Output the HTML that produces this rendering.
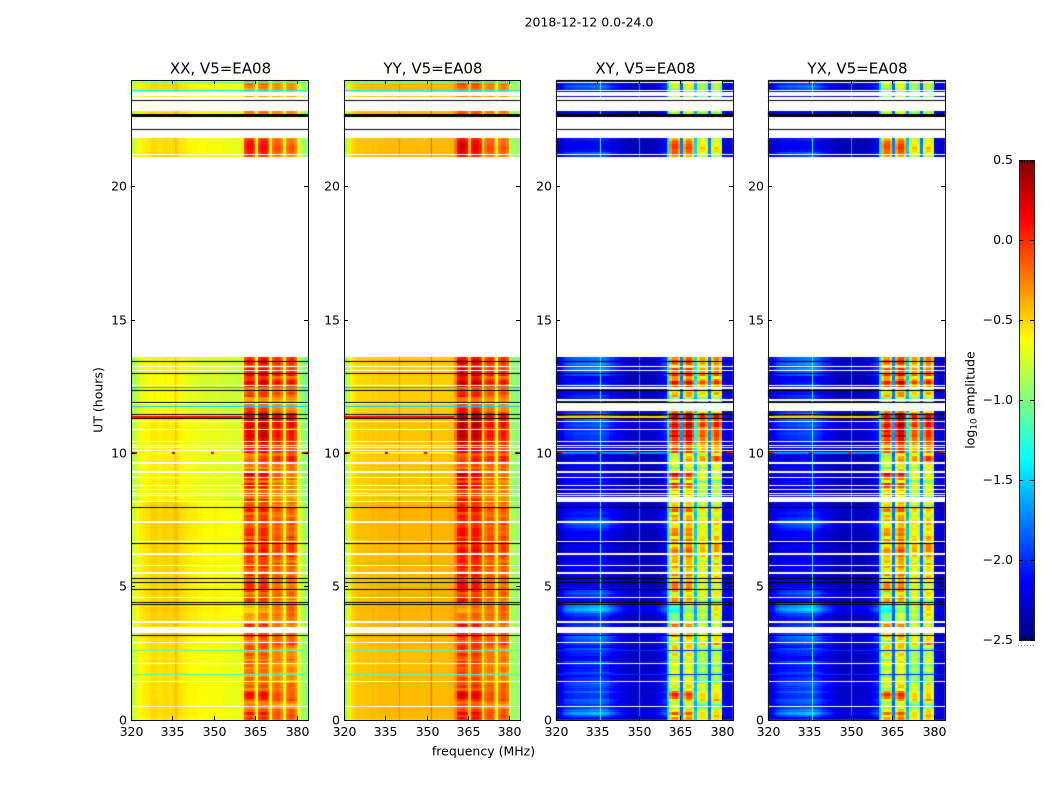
<!DOCTYPE html>
<html>
<head>
<meta charset="utf-8">
<title>2018-12-12 dynamic spectrum</title>
<style>
html,body{margin:0;padding:0;background:#fff;}
#figure{position:relative;width:1050px;height:800px;overflow:hidden;background:#fff;font-family:"DejaVu Sans","Liberation Sans",sans-serif;}
#figure canvas{position:absolute;left:0;top:0;}
#figure svg{position:absolute;left:0;top:0;}
text{font-family:"DejaVu Sans","Liberation Sans",sans-serif;fill:#000;}
</style>
</head>
<body>
<div id="figure">
<canvas id="cells" width="1050" height="800"></canvas>
<svg id="overlay" width="1050" height="800">
<text x="589" y="26.5" text-anchor="middle" font-size="12.5">2018-12-12 0.0-24.0</text>
<text transform="translate(102.5,400) rotate(-90)" text-anchor="middle" font-size="12.5">UT (hours)</text>
<text x="483.5" y="755.5" text-anchor="middle" font-size="12.5">frequency (MHz)</text>
<text transform="translate(974.5,400) rotate(-90)" text-anchor="middle" font-size="12.5">log<tspan font-size="8.8" dy="2">10</tspan><tspan dy="-2"> amplitude</tspan></text>
</svg>
</div>
<script>
// ---- categories and tick labels ----
const panelNames = ['XX', 'YY', 'XY', 'YX'];
const freqTicks = [320, 335, 350, 365, 380];
const hourTicks = [0, 5, 10, 15, 20];
const colorTicks = [0.5, 0.0, -0.5, -1.0, -1.5, -2.0, -2.5];

// ---- per-channel spectra (320..383 MHz, 1 MHz per channel), log10 amplitude ----
const baseXX = [-.82,-.74,-.66,-.6,-.58,-.56,-.56,-.52,-.5,-.52,-.54,-.52,-.5,-.52,-.54,-.5,-.46,-.54,-.56,-.56,-.58,-.6,-.6,-.6,-.62,-.62,-.64,-.64,-.64,-.64,-.62,-.64,-.64,-.66,-.66,-.66,-.68,-.68,-.68,-.68,-.64,-.55,-.55,-.55,-.58,-.62,-.55,-.55,-.55,-.58,-.62,-.55,-.55,-.55,-.58,-.64,-.55,-.55,-.55,-.58,-.7,-.78,-.86,-.94];
const baseYY = [-.88,-.72,-.56,-.5,-.46,-.44,-.46,-.44,-.44,-.44,-.42,-.44,-.42,-.42,-.42,-.42,-.42,-.42,-.42,-.42,-.42,-.42,-.42,-.42,-.42,-.42,-.42,-.42,-.42,-.42,-.42,-.42,-.42,-.42,-.42,-.42,-.42,-.42,-.4,-.4,-.38,-.42,-.42,-.42,-.44,-.5,-.42,-.42,-.42,-.46,-.6,-.5,-.46,-.46,-.5,-.6,-.5,-.46,-.46,-.5,-.86,-.88,-.9,-.92];
const baseXY = [-2.3,-2.35,-2.35,-2.3,-2.3,-2.3,-2.3,-2.3,-2.3,-2.3,-2.3,-2.3,-2.3,-2.3,-2.3,-2.3,-2.3,-2.3,-2.3,-2.35,-2.35,-2.35,-2.35,-2.35,-2.35,-2.35,-2.38,-2.38,-2.38,-2.38,-2.38,-2.38,-2.38,-2.38,-2.38,-2.38,-2.35,-2.35,-2.3,-2.25,-1.6,-1.42,-1.38,-1.38,-1.45,-1.95,-1.42,-1.36,-1.36,-1.45,-1.8,-1.5,-1.42,-1.42,-1.5,-1.95,-1.46,-1.4,-1.4,-1.46,-2.2,-2.3,-2.3,-2.25];
const baseYX = [-2.32,-2.35,-2.35,-2.32,-2.3,-2.3,-2.3,-2.3,-2.3,-2.3,-2.3,-2.3,-2.3,-2.3,-2.3,-2.3,-2.3,-2.3,-2.32,-2.35,-2.35,-2.35,-2.35,-2.35,-2.38,-2.38,-2.38,-2.38,-2.38,-2.38,-2.38,-2.38,-2.38,-2.38,-2.38,-2.38,-2.35,-2.35,-2.32,-2.28,-1.6,-1.44,-1.4,-1.4,-1.46,-1.95,-1.4,-1.34,-1.34,-1.42,-1.85,-1.5,-1.44,-1.44,-1.5,-1.95,-1.44,-1.38,-1.38,-1.44,-2.2,-2.3,-2.3,-2.3];

// how strongly each channel follows the band-gain row values
const gainXX = [0,0,0,0,0,0,0,0,0,0,0,0,0,0,0,0,0,0,0,0,0,0,0,0,0,0,0,0,0,0,0,0,0,0,0,0,0,0,0,0,.2,.7,.85,.85,.7,.05,.8,.95,.95,.8,.05,.62,.76,.76,.62,.05,.62,.78,.78,.62,0,0,0,0];
const gainYY = [0,0,0,0,0,0,0,0,0,0,0,0,0,0,0,0,0,0,0,0,0,0,0,0,0,0,0,0,0,0,0,0,0,0,0,0,0,0,0,0,.25,.75,.85,.85,.7,.15,.75,.85,.85,.7,.05,.5,.62,.62,.5,.05,.52,.64,.64,.52,0,0,0,0];
const gainXY = [0,0,0,0,0,0,0,0,0,0,0,0,0,0,0,0,0,0,0,0,0,0,0,0,0,0,0,0,0,0,0,0,0,0,0,0,0,0,0,0,.2,1.45,1.7,1.7,1.45,.3,1.5,1.8,1.8,1.5,.5,1.3,1.5,1.5,1.3,.3,1.35,1.6,1.6,1.35,.05,0,0,0];
const gainYX = [0,0,0,0,0,0,0,0,0,0,0,0,0,0,0,0,0,0,0,0,0,0,0,0,0,0,0,0,0,0,0,0,0,0,0,0,0,0,0,0,.2,1.4,1.65,1.65,1.4,.3,1.55,1.85,1.85,1.55,.5,1.3,1.55,1.55,1.3,.3,1.4,1.65,1.65,1.4,.05,0,0,0];

// how each channel follows the band-balance row values (negative: low bands, positive: high bands)
const channelTilt = [0,0,0,0,0,0,0,0,0,0,0,0,0,0,0,0,0,0,0,0,0,0,0,0,0,0,0,0,0,0,0,0,0,0,0,0,0,0,0,0,0,-1,-1,-1,-1,0,-.3,-.3,-.3,-.3,0,.5,.5,.5,.5,0,1,1,1,1,0,0,0,0];

// how strongly each channel follows the background row values
const bgXX = [.06,.06,.06,.06,.06,.06,.06,.06,.06,.06,.06,.06,.06,.06,.06,.06,.06,.06,.06,.06,.06,.06,.06,.06,.06,.06,.06,.06,.06,.06,.06,.06,.06,.06,.06,.06,.06,.06,.06,.06,0,0,0,0,0,0,0,0,0,0,0,0,0,0,0,0,0,0,0,0,0,0,0,0];
const bgYY = [.03,.03,.03,.03,.03,.03,.03,.03,.03,.03,.03,.03,.03,.03,.03,.03,.03,.03,.03,.03,.03,.03,.03,.03,.03,.03,.03,.03,.03,.03,.03,.03,.03,.03,.03,.03,.03,.03,.03,.03,0,0,0,0,0,0,0,0,0,0,0,0,0,0,0,0,0,0,0,0,0,0,0,0];
const bgXY = [.25,.4,.6,.75,.85,.9,.95,1,1,1,1.05,1.05,1.1,1.15,1.15,1.15,1.15,1.1,1,.9,.8,.7,.6,.5,.4,.35,.3,.25,.25,.3,.3,.3,.3,.3,.35,.35,.4,.5,.6,.65,0,0,0,0,0,0,0,0,0,0,0,0,0,0,0,0,0,0,0,0,.15,.15,.15,.15];
const bgYX = [.25,.4,.6,.75,.85,.9,.9,1,1,1,1.05,1.1,1.1,1.15,1.2,1.2,1.15,1.05,.95,.85,.75,.65,.55,.45,.4,.35,.3,.25,.25,.3,.3,.3,.3,.3,.35,.35,.4,.5,.6,.65,0,0,0,0,0,0,0,0,0,0,0,0,0,0,0,0,0,0,0,0,.15,.15,.15,.15];

// ---- per-time-row values (0.1 h rows from 0.0 to 23.9 h) ----
const rowGain = [
.6,.55,.65,.5,.3,.3,.35,.6,.65,.7,
.6,.4,.5,.45,.35,.4,.3,.35,.4,.35,
.35,.45,.35,.4,.45,.35,.4,.5,.55,.4,
.5,.6,.5,.4,.45,.55,.35,.3,.35,.4,
.25,.3,.35,.3,.45,.55,.5,.45,.55,.6,
.55,.6,.5,.55,.6,.45,.5,.6,.55,.5,
.55,.65,.6,.7,.65,.6,.6,.65,.55,.6,
.55,.6,.5,.55,.65,.55,.5,.45,.65,.7,
.45,.5,.55,.35,.5,.4,.5,.6,.65,.35,
.6,.65,.7,.5,.3,.45,.55,.65,.6,.4,
.75,.7,.65,.7,.85,.8,.95,.85,.9,.8,
.95,.9,.85,1,1,.6,.5,.4,.35,.25,
.3,.55,.6,.45,.4,.75,.9,.7,.55,.85,
.7,.75,.5,.7,.75,.7,0,0,0,0,
0,0,0,0,0,0,0,0,0,0,
0,0,0,0,0,0,0,0,0,0,
0,0,0,0,0,0,0,0,0,0,
0,0,0,0,0,0,0,0,0,0,
0,0,0,0,0,0,0,0,0,0,
0,0,0,0,0,0,0,0,0,0,
0,0,0,0,0,0,0,0,0,0,
0,.5,.6,.65,.7,.65,.6,.55,.45,0,
0,0,0,0,0,0,0,.35,.4,0,
0,0,0,.3,.2,.2,.3,.35,.4,.3];
const rowTilt = [
-.05,.1,-.1,.05,0,-.1,.05,.1,-.1,-.15,
-.1,.1,0,.1,-.1,-.05,.05,-.1,0,.05,
-.1,-.05,.1,0,-.1,.05,-.15,-.05,.2,.1,
.05,-.1,0,-.1,0,-.15,.1,.1,.1,.15,
.2,.25,.2,.1,-.2,-.1,0,.1,-.1,-.1,
-.15,-.1,0,.05,-.1,.1,0,-.05,.1,-.1,
0,.05,-.1,0,.05,.1,-.1,-.05,.1,-.1,
-.1,-.05,0,.1,-.05,0,-.15,.05,-.1,.05,
-.1,0,-.2,-.1,-.15,0,-.1,-.2,-.25,-.1,
-.1,-.2,-.3,0,.1,.05,.1,.2,.25,.1,
-.05,-.1,.05,0,-.05,0,-.1,0,-.05,-.05,
0,.05,0,0,0,-.1,-.15,-.1,0,0,
.05,-.1,.05,0,.1,-.05,0,.05,-.1,0,
.05,-.05,.1,0,-.05,.05,0,0,0,0,
0,0,0,0,0,0,0,0,0,0,
0,0,0,0,0,0,0,0,0,0,
0,0,0,0,0,0,0,0,0,0,
0,0,0,0,0,0,0,0,0,0,
0,0,0,0,0,0,0,0,0,0,
0,0,0,0,0,0,0,0,0,0,
0,0,0,0,0,0,0,0,0,0,
0,-.15,-.15,-.1,-.1,-.15,-.15,-.1,-.1,0,
0,0,0,0,0,0,0,0,0,0,
0,0,0,0,0,0,.05,0,-.05,0];
const rowBackground = [
.2,.4,.65,.5,.35,.3,.4,.45,.3,.3,
.45,.3,.35,.45,.25,.3,.2,.35,.25,.2,
.25,.4,.2,.15,.25,.3,.4,.2,.35,.4,
.45,.55,.35,.2,.15,.3,.25,.2,.25,.35,
.55,.7,.6,.45,.2,.2,.3,.4,.35,.2,
.1,.15,.15,.05,.1,.15,.15,.1,.15,.15,
.05,.1,.15,.1,.15,.15,.1,.05,.15,.15,
.15,.25,.35,.45,.4,.3,.2,.25,.2,.15,
.1,.15,.1,.15,.2,.15,.1,.15,.15,.2,
.15,.15,.2,.15,.15,.15,.2,.15,.1,.1,
.2,.15,.15,.2,.25,.3,.3,.35,.3,.3,
.4,.35,.45,.6,.5,.3,.35,.2,.15,.15,
.25,.3,.2,.15,.2,.3,.2,.15,.15,.4,
.4,.55,.4,.55,.45,.45,0,0,0,0,
0,0,0,0,0,0,0,0,0,0,
0,0,0,0,0,0,0,0,0,0,
0,0,0,0,0,0,0,0,0,0,
0,0,0,0,0,0,0,0,0,0,
0,0,0,0,0,0,0,0,0,0,
0,0,0,0,0,0,0,0,0,0,
0,0,0,0,0,0,0,0,0,0,
0,.3,.4,.2,.1,.15,.15,.25,.2,0,
0,0,0,0,0,0,0,.15,.15,0,
0,0,0,.15,.1,.15,.35,.45,.3,.2];

// epochs: parallel-hand background level shift per observing stretch
const epochStartHours = [0, 3.1, 8.2, 11.4, 21, 23.4];
const epochOffset = [-.03, .01, -.07, -.12, -.02, -.02];

// ---- flagged time ranges (hours) ----
const flagStart = [.47,1.41,2.08,2.87,3.26,3.62,3.69,4.56,5.48,5.79,6.2,6.67,7.41,8.16,8.38,8.49,8.61,8.79,9.06,9.25,9.62,10.07,10.18,10.26,10.41,10.89,11.16,11.83,12.51,13.07,13.22,13.6,21.19,21.82,23.4,22.85];
const flagEnd   = [.51,1.45,2.12,2.91,3.49,3.66,3.73,4.6,5.55,5.83,6.27,6.71,7.48,8.2,8.42,8.53,8.65,8.83,9.1,9.34,9.68,10.11,10.22,10.3,10.45,10.93,11.2,11.87,12.55,13.11,13.26,21.11,21.23,22.7,23.55,23.38];
const crossFlagStart = [8.16,11.6,11.98,12.42];
const crossFlagEnd   = [8.36,11.85,12.02,12.48];
const parallelStripeHours = [1.72,2.62,11.77,12.45,23.62,23.9];
const parallelStripeValues = [-1.15,-1.1,-1.5,-1.6,-1.4,-1.05];
const blackLineStart = [3.13,4.33,4.38,4.86,5.12,5.28,6.58,7.93,11.27,11.42,11.9,12.35,12.99,13.44,22.13,22.6,23.22];
const blackLineEnd   = [3.17,4.36,4.41,4.9,5.16,5.31,6.62,7.97,11.31,11.46,11.94,12.39,13.03,13.48,22.17,22.72,23.26];

// ---- whole-row bright events ----
const hotRowHours = [11.37, 10.02];
const hotRowParallel = [.1, -.62];
const hotRowCross = [-.5, -1.7];

// ---- isolated spikes on the 10 h row ----
const spikeFreqs = [320, 321, 335, 349, 382, 383];
const spikeValues = [.4, .35, .35, .2, .4, .35];

// ---- narrow interference lines, per panel ----
const rfiFreqXX = [335.9];
const rfiValueXX = [-.42];
const rfiFreqYY = [339.9, 351.8];
const rfiValueYY = [-.25, -.1];
const rfiFreqXY = [335.9, 350];
const rfiValueXY = [-1.25, -1.7];
const rfiFreqYX = [335.9, 350];
const rfiValueYX = [-1.25, -1.7];

const panelBase = [baseXX, baseYY, baseXY, baseYX];
const panelGain = [gainXX, gainYY, gainXY, gainYX];
const panelBg = [bgXX, bgYY, bgXY, bgYX];
const panelRfiFreq = [rfiFreqXX, rfiFreqYY, rfiFreqXY, rfiFreqYX];
const panelRfiValue = [rfiValueXX, rfiValueYY, rfiValueXY, rfiValueYX];

// ---- layout ----
const panelLeft = [131, 344, 556, 768];
const panelWidths = [177, 176, 177, 177];
const plotTop = 80, plotBottom = 720;
const freqMin = 320, freqMax = 384, hourMin = 0, hourMax = 24;
const cbarLeft = 1019, cbarRight = 1034, cbarTop = 160, cbarBottom = 640;
const valueMin = -2.5, valueMax = 0.5;

function xScale(panel, f) { return panelLeft[panel] + (f - freqMin) * panelWidths[panel] / (freqMax - freqMin); }
function yScale(h) { return plotBottom - (h - hourMin) * (plotBottom - plotTop) / (hourMax - hourMin); }
function cbarY(v) { return cbarBottom - (v - valueMin) * (cbarBottom - cbarTop) / (valueMax - valueMin); }

function clamp01(x) { return Math.max(0, Math.min(1, x)); }
function jet(v) {
  const x = clamp01((v - valueMin) / (valueMax - valueMin));
  const r = clamp01(Math.min(4 * x - 1.5, -4 * x + 4.5));
  const g = clamp01(Math.min(4 * x - 0.5, -4 * x + 3.5));
  const b = clamp01(Math.min(4 * x + 0.5, -4 * x + 2.5));
  return 'rgb(' + Math.round(r * 255) + ',' + Math.round(g * 255) + ',' + Math.round(b * 255) + ')';
}
function epochShift(h) {
  let s = 0;
  epochStartHours.forEach(function (start, i) { if (h >= start) s = epochOffset[i]; });
  return s;
}

const ctx = document.getElementById('cells').getContext('2d');
const pxPerHour = (plotBottom - plotTop) / (hourMax - hourMin);

function hBand(panel, h0, h1, color, minH) {
  const x0 = Math.round(xScale(panel, freqMin));
  const x1 = Math.round(xScale(panel, freqMax));
  const y0 = Math.round(yScale(h1));
  const height = Math.max(minH || 1, Math.round((h1 - h0) * pxPerHour));
  ctx.fillStyle = color;
  ctx.fillRect(x0, y0, x1 - x0, height);
}

panelNames.forEach(function (name, p) {
  const base = panelBase[p], gain = panelGain[p], bg = panelBg[p];
  const parallel = p < 2;
  // heatmap cells
  rowGain.forEach(function (g, r) {
    const h = r / 10;
    const y0 = Math.round(yScale(h + 0.1));
    const y1 = Math.round(yScale(h));
    base.forEach(function (b, c) {
      const x0 = Math.round(xScale(p, freqMin + c));
      const x1 = Math.round(xScale(p, freqMin + c + 1));
      const eff = Math.max(0, g + channelTilt[c] * rowTilt[r]);
      let v = b + gain[c] * eff + bg[c] * rowBackground[r];
      if (parallel && gain[c] < 0.3) v += epochShift(h) * (p === 0 ? 1 : 0.6);
      ctx.fillStyle = jet(v);
      ctx.fillRect(x0, y0, x1 - x0, y1 - y0);
    });
  });
  // interference lines
  panelRfiFreq[p].forEach(function (f, i) {
    ctx.fillStyle = jet(panelRfiValue[p][i]);
    ctx.fillRect(Math.round(xScale(p, f)), plotTop, 1, plotBottom - plotTop);
  });
  // bright whole-row events, band channels stay saturated
  hotRowHours.forEach(function (h, i) {
    const val = parallel ? hotRowParallel[i] : hotRowCross[i];
    const xEnd = Math.round(xScale(p, 360));
    const y = Math.round(yScale(h)) - 1;
    ctx.fillStyle = jet(val);
    ctx.fillRect(Math.round(xScale(p, freqMin)), y, xEnd - Math.round(xScale(p, freqMin)), 2);
  });
  // spikes
  spikeFreqs.forEach(function (f, i) {
    ctx.fillStyle = jet(spikeValues[i] - (parallel ? 0 : 0.1));
    const x0 = Math.round(xScale(p, f));
    ctx.fillRect(x0, Math.round(yScale(10.02)) - 1, Math.round(xScale(p, f + 1)) - x0, 2);
  });
  // flagged rows
  flagStart.forEach(function (s, i) { hBand(p, s, flagEnd[i], '#ffffff'); });
  if (!parallel) crossFlagStart.forEach(function (s, i) { hBand(p, s, crossFlagEnd[i], '#ffffff', 2); });
  parallelStripeHours.forEach(function (h, i) {
    hBand(p, h - 0.02, h + 0.02, parallel ? jet(parallelStripeValues[i]) : (i < 2 ? jet(-2) : '#ffffff'));
  });
  blackLineStart.forEach(function (s, i) { hBand(p, s, blackLineEnd[i], '#000000'); });
});

// ---- overlay axes ----
const svg = document.getElementById('overlay');
const NS = 'http://www.w3.org/2000/svg';
function svgEl(tag, attrs) {
  const el = document.createElementNS(NS, tag);
  Object.keys(attrs).forEach(function (k) { el.setAttribute(k, attrs[k]); });
  return el;
}

panelNames.forEach(function (name, p) {
  const left = panelLeft[p], width = panelWidths[p], right = left + width;
  const axes = svgEl('g', {});
  
  
  svg.appendChild(axes);

  const title = svgEl('text', { x: left + width / 2 + 1, y: 73.5, 'text-anchor': 'middle', 'font-size': 15 });
  title.textContent = name + ', V5=EA08';
  
  
  axes.appendChild(title);

  const frame = svgEl('rect', { x: left + 0.5, y: plotTop + 0.5, width: width, height: plotBottom - plotTop, fill: 'none', stroke: '#111', 'stroke-width': 1 });
  
  
  axes.appendChild(frame);

  freqTicks.forEach(function (f) {
    const x = Math.round(xScale(p, f)) + 0.5;
    const tick = svgEl('path', { d: 'M' + x + ' ' + plotBottom + 'v-4M' + x + ' ' + plotTop + 'v4', stroke: '#000', 'stroke-width': 1, fill: 'none' });
    
    
    axes.appendChild(tick);
    const label = svgEl('text', { x: x, y: 736, 'text-anchor': 'middle', 'font-size': 12.5 });
    label.textContent = String(f);
    
    
    axes.appendChild(label);
  });
  hourTicks.forEach(function (h) {
    const y = Math.floor(yScale(h)) + 0.5;
    const tick = svgEl('path', { d: 'M' + left + ' ' + y + 'h4M' + right + ' ' + y + 'h-4', stroke: '#000', 'stroke-width': 1, fill: 'none' });
    
    
    axes.appendChild(tick);
    const label = svgEl('text', { x: left - 4, y: y + 4, 'text-anchor': 'end', 'font-size': 12.5 });
    label.textContent = String(h);
    
    
    axes.appendChild(label);
  });
});

// ---- colorbar ----
const cbar = svgEl('g', {});


svg.appendChild(cbar);
for (let y = cbarTop; y < cbarBottom; y++) {
  const v = valueMax - (y + 0.5 - cbarTop) * (valueMax - valueMin) / (cbarBottom - cbarTop);
  const strip = svgEl('rect', { x: cbarLeft, y: y, width: cbarRight - cbarLeft, height: 1, fill: jet(v) });
  
  
  cbar.appendChild(strip);
}
const cbarFrame = svgEl('rect', { x: cbarLeft + 0.5, y: cbarTop + 0.5, width: cbarRight - cbarLeft, height: cbarBottom - cbarTop, fill: 'none', stroke: '#222', 'stroke-width': 1 });


cbar.appendChild(cbarFrame);
colorTicks.forEach(function (v) {
  const y = Math.round(cbarY(v)) + 0.5;
  const tick = svgEl('path', { d: 'M' + cbarLeft + ' ' + y + 'h4M' + cbarRight + ' ' + y + 'h-4', stroke: '#000', 'stroke-width': 1, fill: 'none' });
  
  
  cbar.appendChild(tick);
  const label = svgEl('text', { x: 1013, y: y + 3.5, 'text-anchor': 'end', 'font-size': 12.5 });
  label.textContent = v.toFixed(1).replace('-', '\u2212');
  
  
  cbar.appendChild(label);
});
for (let x = 1021.5; x < 1034; x += 3) {
  const endTicks = svgEl('path', { d: 'M' + x + ' ' + cbarTop + 'v4M' + x + ' ' + cbarBottom + 'v-4', stroke: '#000', 'stroke-width': 0.7, fill: 'none' });
  
  
  cbar.appendChild(endTicks);
}
for (let x = 1018; x <= 1034; x += 3) {
  const dot = svgEl('rect', { x: x, y: 645, width: 1, height: 1, fill: '#888' });
  
  
  cbar.appendChild(dot);
}
</script>
</body>
</html>
